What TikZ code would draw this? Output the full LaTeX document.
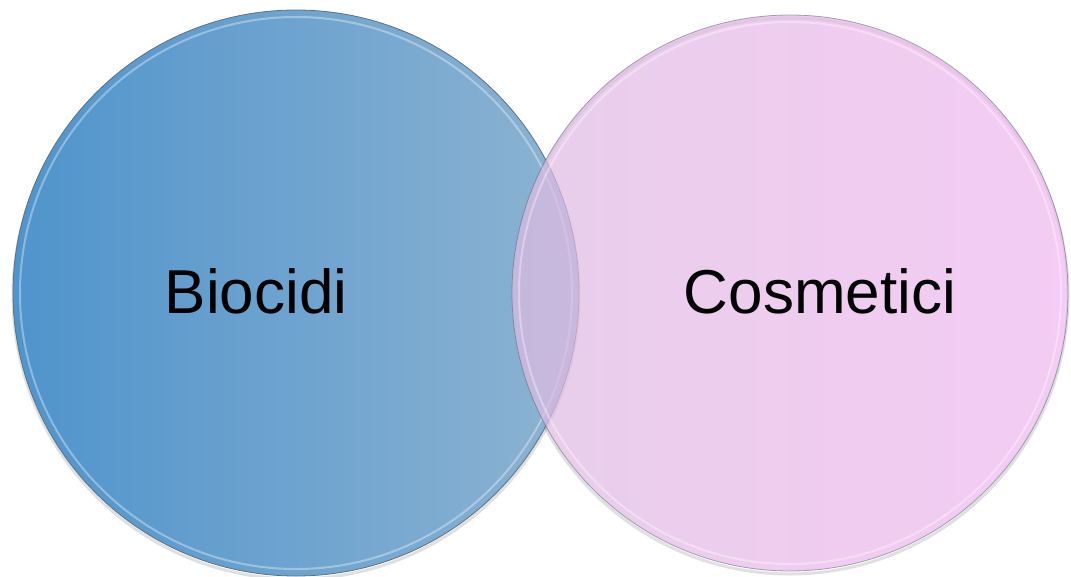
\documentclass[tikz,border=0pt]{standalone}
\usepackage{fontspec}
\setmainfont{Liberation Sans}
\usepackage{xcolor}
\usepackage{tikz}
\usetikzlibrary{positioning,calc}
\definecolor{BlueLeft}{HTML}{4F94CC}
\definecolor{BlueRight}{HTML}{8DB3D2}
\definecolor{PinkLeft}{HTML}{DFBBE2}
\definecolor{PinkRight}{HTML}{F0B8F0}
\definecolor{Rim}{HTML}{5F6F7C}

\begin{document}
\begin{tikzpicture}[
  x=1pt,y=-1pt,
  set/.style={circle,inner sep=0pt,draw=Rim,line width=0.8pt},
  bio/.style={set,minimum size=566pt,left color=BlueLeft,right color=BlueRight},
  cosm/.style={set,minimum size=556pt,left color=PinkLeft,right color=PinkRight,fill opacity=0.72,draw opacity=0.6},
  shine/.style={white,line width=2pt,opacity=0.35},
  shadow/.style={black,line width=3pt,opacity=0.12},
  word/.style={anchor=base,font=\fontsize{62}{70}\selectfont,text=black}
]
\useasboundingbox (0,0) rectangle (1071,576);
% soft shadows
\draw[shadow] (296,296) circle (283);
\draw[shadow] (790,296) circle (278);
% the two sets
\node[bio] (biocidi) at (296,293) {};
\draw[shine] (biocidi.center) circle (276);
\node[cosm] (cosmetici) at (790,293) {};
\draw[shine] (cosmetici.center) circle (271);
% labels
\node[word] (lbio) at (256,313) {Biocidi};
\node[word] (lcosm) at (820,313) {Cosmetici};
\end{tikzpicture}
\end{document}
